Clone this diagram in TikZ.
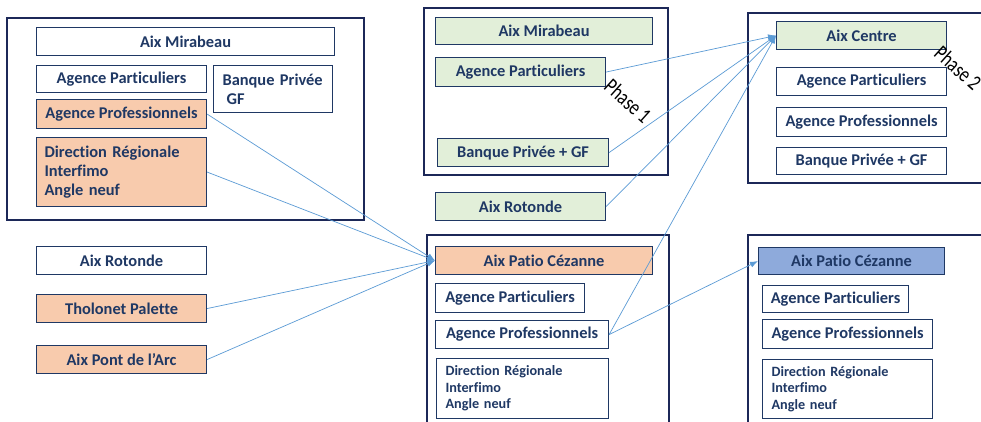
\documentclass[tikz,border=0pt]{standalone}
\usepackage{fontspec}
\setmainfont{Carlito}[Ligatures=NoCommon]
\usetikzlibrary{arrows.meta}
\definecolor{navy}{HTML}{1F3864}
\definecolor{framenavy}{HTML}{1C2858}
\definecolor{peach}{HTML}{F8CBAD}
\definecolor{sage}{HTML}{E2EFD9}
\definecolor{sky}{HTML}{8EAADB}
\definecolor{wire}{HTML}{5B9BD5}
\begin{document}
\begin{tikzpicture}[x=1pt, y=-1pt,
            site/.style={draw=navy, line width=1.1pt, fill=white, text=navy, inner sep=0pt, anchor=north west,
                font=\bfseries\fontsize{16.4}{19}\selectfont},
            pro/.style={site, fill=peach},
            moved/.style={site, fill=sage},
            newsite/.style={site, fill=sky},
            listing/.style={align=left, inner xsep=9pt},
            small/.style={font=\bfseries\fontsize{14.2}{16.5}\selectfont},
            frame/.style={draw=framenavy, line width=2pt},
            link/.style={wire, line width=0.7pt, -{Latex[length=8pt,width=6pt]}},
            phase/.style={font=\fontsize{22}{22}\selectfont, rotate=-42, inner sep=0pt}]
            \path[use as bounding box, clip] (0,0) rectangle (981,421);
            \fill[white] (0,0) rectangle (981,421);
            \draw[frame] (7,18) rectangle (364,220);
            \draw[frame] (424,8) rectangle (668,175);
            \draw[frame] (748,13) rectangle (995,183);
            \draw[frame] (427,235) rectangle (669,430);
            \draw[frame] (748,235) rectangle (995,430);
            \node[site, minimum width=298pt, minimum height=28pt] (lmirabeau) at (36,27) {Aix Mirabeau};
            \node[site, minimum width=170pt, minimum height=27pt] (lpart) at (36,65) {Agence Particuliers};
            \node[site, listing, text width=101pt, minimum height=47pt] (lbanque) at (213,65) {Banque Privée\\\hspace*{0.25em}GF};
            \node[pro, minimum width=170pt, minimum height=29pt] (lpro) at (36,99) {Agence Professionnels};
            \node[pro, listing, inner xsep=8pt, text width=154pt, minimum height=69pt] (ldir) at (36,137) {Direction Régionale\\Interfimo\\Angle neuf};
            \node[site, minimum width=170pt, minimum height=28pt] (lrotonde) at (36,246) {Aix Rotonde};
            \node[pro, minimum width=170pt, minimum height=28pt] (tholonet) at (36,294) {Tholonet Palette};
            \node[pro, minimum width=170pt, minimum height=28pt] (pontarc) at (36,345) {Aix Pont de l’Arc};
            \node[moved, minimum width=217pt, minimum height=27pt] (mmirabeau) at (435,17) {Aix Mirabeau};
            \node[moved, minimum width=170pt, minimum height=29pt] (mpart) at (435,57) {Agence Particuliers};
            \node[moved, minimum width=171pt, minimum height=28pt] (mbanque) at (437,138) {Banque Privée + GF};
            \node[moved, minimum width=170pt, minimum height=28pt] (mrotonde) at (435,192) {Aix Rotonde};
            \node[moved, minimum width=170pt, minimum height=28pt] (centre) at (776,21) {Aix Centre};
            \node[site, minimum width=170pt, minimum height=28pt] (cpart) at (776,67) {Agence Particuliers};
            \node[site, minimum width=170pt, minimum height=29pt] (cpro) at (776,107) {Agence Professionnels};
            \node[site, minimum width=170pt, minimum height=27pt] (cbanque) at (776,147) {Banque Privée + GF};
            \node[pro, minimum width=217pt, minimum height=28pt] (patio) at (435,246) {Aix Patio Cézanne};
            \node[site, minimum width=149pt, minimum height=29pt] (ppart) at (435,283) {Agence Particuliers};
            \node[site, minimum width=173pt, minimum height=28pt] (ppro) at (435,320) {Agence Professionnels};
            \node[site, small, listing, text width=154pt, minimum height=60pt] (pdir) at (436,358) {Direction Régionale\\Interfimo\\Angle neuf};
            \node[newsite, minimum width=186pt, minimum height=27pt] (npatio) at (758,247) {Aix Patio Cézanne};
            \node[site, minimum width=146pt, minimum height=27pt] (npart) at (762,285) {Agence Particuliers};
            \node[site, minimum width=170pt, minimum height=29pt] (npro) at (762,319) {Agence Professionnels};
            \node[site, small, listing, text width=152pt, minimum height=59pt] (ndir) at (762,359) {Direction Régionale\\Interfimo\\Angle neuf};
            \node[phase] (phaseone) at (628,101) {\scalebox{0.78}[1]{Phase 1}};
            \node[phase] (phasetwo) at (958,68) {\scalebox{0.78}[1]{Phase 2}};
            \draw[link] (lpro.east) -- (patio.west);
            \draw[link] (ldir.east) -- (patio.west);
            \draw[link] (tholonet.east) -- (patio.west);
            \draw[link] (pontarc.east) -- (patio.west);
            \draw[link] (mpart.east) -- (centre.west);
            \draw[link] (mbanque.east) -- (centre.west);
            \draw[link] (mrotonde.east) -- (centre.west);
            \draw[link] (ppro.east) -- (centre.west);
            \draw[link] (ppro.east) -- (npatio.west);
        \end{tikzpicture}
\end{document}
